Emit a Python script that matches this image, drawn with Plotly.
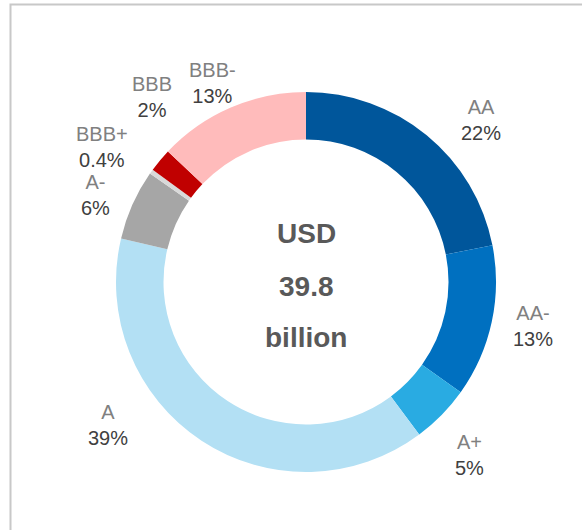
import plotly.graph_objects as go

W, H = 582, 530

# Data
ratings = ["AA", "AA-", "A+", "A", "A-", "BBB+", "BBB", "BBB-"]
shares = [22, 13, 5, 39, 6, 0.4, 2, 13]
share_labels = ["22%", "13%", "5%", "39%", "6%", "0.4%", "2%", "13%"]
center_lines = ["USD", "39.8", "billion"]

# Styles / positions (pixels)
colors = ["#00569B", "#0070C0", "#29ABE2", "#B3E0F4", "#A6A6A6", "#D9D9D9", "#C00000", "#FFBBBB"]
label_pos = [(481, 120), (533, 326), (469, 455), (108, 425), (95, 195), (102, 147), (152, 97), (212, 83)]
center_y = [233, 286, 337]

cx, cy, R = 306, 282, 190

fig = go.Figure(go.Pie(
    labels=ratings,
    values=shares,
    sort=False,
    direction="clockwise",
    rotation=0,
    hole=0.75,
    marker=dict(colors=colors, line=dict(width=0)),
    textinfo="none",
    hoverinfo="label+percent",
    showlegend=False,
    domain=dict(x=[(cx - R) / W, (cx + R) / W], y=[1 - (cy + R) / H, 1 - (cy - R) / H]),
))

annotations = []
for name, pct, (px, py) in zip(ratings, share_labels, label_pos):
    annotations.append(dict(
        x=px / W, y=1 - py / H, xref="paper", yref="paper",
        text=f"<span style='color:#808080'>{name}</span><br><span style='color:#404040'>{pct}</span>",
        showarrow=False, xanchor="center", yanchor="middle",
        font=dict(family="Liberation Sans, Arial, sans-serif", size=20),
    ))
for line, py in zip(center_lines, center_y):
    annotations.append(dict(
        x=cx / W, y=1 - py / H, xref="paper", yref="paper",
        text=f"<b>{line}</b>", showarrow=False, xanchor="center", yanchor="middle",
        font=dict(family="Liberation Sans, Arial, sans-serif", size=28, color="#595959"),
    ))

fig.update_layout(
    width=W, height=H,
    margin=dict(l=0, r=0, t=0, b=0),
    paper_bgcolor="white",
    plot_bgcolor="white",
    annotations=annotations,
    shapes=[dict(type="rect", xref="paper", yref="paper",
                 x0=10.5 / W, x1=1.05, y0=-0.05, y1=1 - 4.5 / H,
                 line=dict(color="#C8C8C8", width=2), fillcolor="rgba(0,0,0,0)")],
)

fig.write_html("out.html", config={"displayModeBar": False},
               post_script="document.body.style.margin='0';")
